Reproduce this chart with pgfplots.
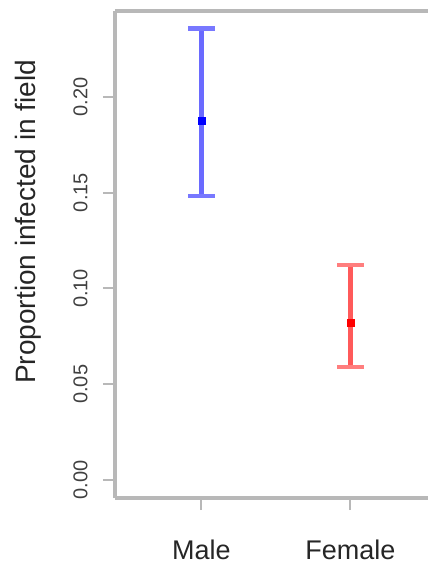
\documentclass[border=0pt]{standalone}
\usepackage{pgfplots}
\pgfplotsset{compat=1.18}
\usepackage{fontspec}
\setmainfont{Liberation Sans}
\definecolor{axgray}{HTML}{B8B8B8}
\definecolor{mbar}{HTML}{6A6AFF}
\definecolor{mcap}{HTML}{7878FF}
\definecolor{fbar}{HTML}{FF5A5A}
\definecolor{fcap}{HTML}{FF7E7E}
\begin{document}
\begin{tikzpicture}
\begin{axis}[
  scale only axis, width=313pt, height=487pt,
  xmin=0.42, xmax=2.52, ymin=-0.0093, ymax=0.2447,
  axis x line*=box, axis y line*=left,
  xtick pos=bottom, ytick pos=left,
  axis line style={axgray, line width=3.5pt, -},
  tick align=outside,
  major tick length=12pt,
  tick style={axgray, line width=2pt},
  xtick={1,2}, xticklabels={Male,Female},
  ytick={0,0.05,0.1,0.15,0.2},
  /pgf/number format/assume math mode=true,
  yticklabel style={rotate=90, anchor=south, yshift=12pt, font=\fontsize{20}{20}\selectfont, text=black!75,
    /pgf/number format/fixed, /pgf/number format/fixed zerofill, /pgf/number format/precision=2},
  xticklabel style={font=\fontsize{27}{27}\selectfont, text=black!85, anchor=north, yshift=-26pt},
  ylabel={Proportion infected in field},
  ylabel style={font=\fontsize{28}{28}\selectfont, text=black!85, at={(rel axis cs:0,0.567)}, yshift=87pt, anchor=center},
  clip=false,
]
% Male
\addplot[draw=mbar, line width=4.5pt] coordinates {(1,0.1481) (1,0.2355)};
\addplot[only marks, mark=-, mark size=13.3pt, mark options={line width=4.5pt, draw=mcap}] coordinates {(1,0.1481) (1,0.2355)};
\addplot[only marks, mark=square*, mark size=3.5pt, blue] coordinates {(1,0.1875)};
% Female
\addplot[draw=fbar, line width=4.5pt] coordinates {(2,0.0589) (2,0.1121)};
\addplot[only marks, mark=-, mark size=13.3pt, mark options={line width=4.5pt, draw=fcap}] coordinates {(2,0.0589) (2,0.1121)};
\addplot[only marks, mark=square*, mark size=3.5pt, red] coordinates {(2,0.0819)};
\end{axis}
\path (current axis.south west) ++(-115pt,-67pt) rectangle ++(428pt,565pt);
\end{tikzpicture}
\end{document}
